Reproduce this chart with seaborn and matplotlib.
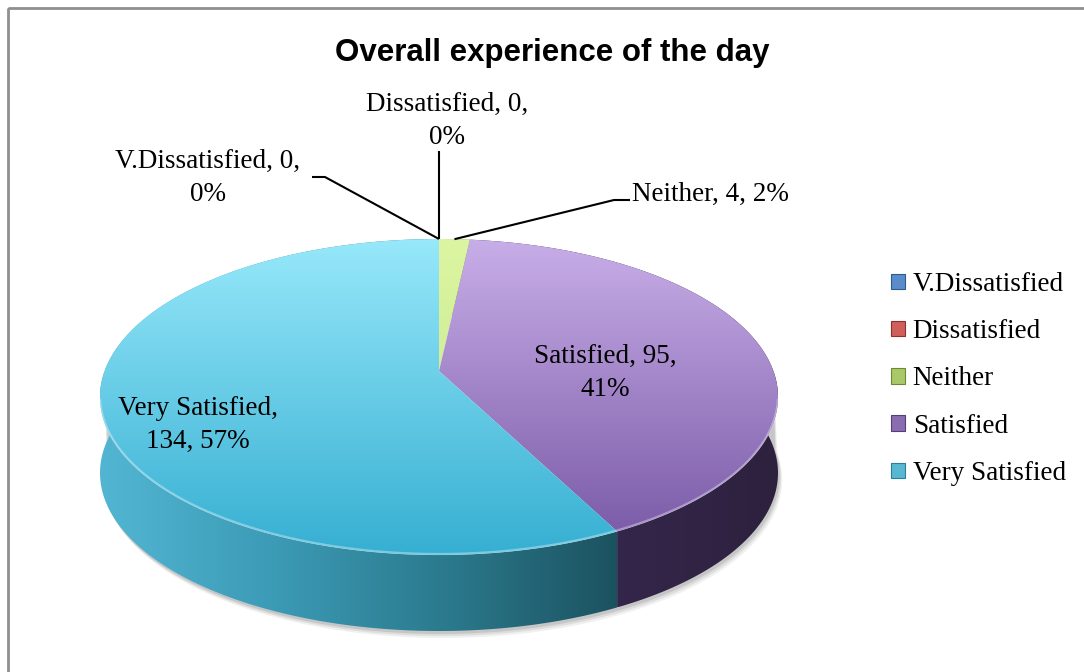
import numpy as np
import matplotlib
matplotlib.use("Agg")
import matplotlib.pyplot as plt
from matplotlib.patches import Polygon, Rectangle, Patch
import seaborn as sns

# ---- data -------------------------------------------------------------
categories = ["V.Dissatisfied", "Dissatisfied", "Neither", "Satisfied", "Very Satisfied"]
counts = [0, 0, 4, 95, 134]
percents = ["0%", "0%", "2%", "41%", "57%"]
# comma-separated label parts kept on the first line of each data label
first_line_parts = [2, 2, 3, 2, 1]
chart_title = "Overall experience of the day"

# ---- colours ------------------------------------------------------------
legend_colors = ["#5a8ccb", "#d05f5c", "#a9c868", "#8a6db0", "#58b8d2"]
legend_edges = ["#2f5a8e", "#8e3030", "#6b8a33", "#553e78", "#2b7f98"]
top_colors = [("#7ea9dc", "#4f81bd"), ("#e08080", "#c0504d"),
              ("#dcf5a2", "#c2e487"), ("#c8aee8", "#7656a4"),
              ("#97e8fa", "#36afd2")]
side_colors = [["#3d6699", "#2c4d75"], ["#9a3e3c", "#72302e"],
               ["#9ab95a", "#7a9544"], ["#3d2b50", "#34264a", "#2d213e"],
               ["#52b6d3", "#3c9bb6", "#2b7a8d", "#1c5260"]]

sns.set_theme(style="white")
plt.rcParams["font.family"] = ["Liberation Serif", "DejaVu Serif"]
plt.rcParams["text.color"] = "black"

W, H = 1084, 672
fig = plt.figure(figsize=(W / 100, H / 100), dpi=100)
ax = fig.add_axes([0, 0, 1, 1])
ax.set_xlim(0, W)
ax.set_ylim(H, 0)
ax.axis("off")

# ---- perspective model of the pie disc ----------------------------------
CX = 439.0
Y_FAR, Y_CENTER, Y_NEAR = 239.0, 371.0, 555.0
HALF_W = 339.0
DEPTH = 76.0
q = Y_CENTER
r = (2 * q - Y_NEAR - Y_FAR) / (Y_NEAR - Y_FAR)
p = Y_NEAR * (r + 1) - q
vv = np.linspace(-1, 1, 4001)
s = HALF_W / np.max(np.sqrt(1 - vv ** 2) / (1 + r * vv))


def project(u, v):
    d = 1 + r * v
    return CX + s * u / d, (p * v + q) / d


def rim(phi, rho=1.0):
    # phi measured clockwise from 12 o'clock
    return project(rho * np.sin(phi), -rho * np.cos(phi))


def gradient_patch(xy, colors, horizontal, zorder):
    poly = Polygon(xy, closed=True, facecolor="none", edgecolor="none", zorder=zorder)
    ax.add_patch(poly)
    x0, y0 = xy.min(axis=0)
    x1, y1 = xy.max(axis=0)
    cmap = sns.blend_palette(colors, as_cmap=True)
    ramp = np.linspace(0, 1, 256)
    arr = ramp[None, :] if horizontal else ramp[:, None]
    im = ax.imshow(arr, cmap=cmap, extent=(x0, x1, y1, y0), aspect="auto",
                   interpolation="bilinear", zorder=zorder)
    im.set_clip_path(poly)


total = float(sum(counts))
bounds = 2 * np.pi * np.concatenate([[0], np.cumsum(counts)]) / total

# soft shadow under the disc
front = np.linspace(np.pi / 2, 3 * np.pi / 2, 200)
fx, fy = rim(front)
for k, a in zip([7, 5, 3], [0.06, 0.08, 0.10]):
    shadow = np.column_stack([np.r_[fx + k * 0.6, fx[::-1]],
                              np.r_[fy + DEPTH + k, fy[::-1]]])
    ax.add_patch(Polygon(shadow, closed=True, facecolor="#000000",
                         edgecolor="none", alpha=a, zorder=1))

# side walls
for i, c in enumerate(counts):
    if c == 0:
        continue
    ph = np.linspace(bounds[i], bounds[i + 1], 200)
    x, y = rim(ph)
    xy = np.column_stack([np.r_[x, x[::-1]], np.r_[y, y[::-1] + DEPTH]])
    gradient_patch(xy, side_colors[i], horizontal=True, zorder=2)

# top faces
for i, c in enumerate(counts):
    if c == 0:
        continue
    ph = np.linspace(bounds[i], bounds[i + 1], 200)
    x, y = rim(ph)
    xy = np.column_stack([np.r_[CX, x], np.r_[Y_CENTER, y]])
    poly = Polygon(xy, closed=True, facecolor="none", edgecolor="none", zorder=3)
    ax.add_patch(poly)
    cmap = sns.blend_palette(list(top_colors[i]), as_cmap=True)
    im = ax.imshow(np.linspace(0, 1, 256)[:, None], cmap=cmap,
                   extent=(CX - HALF_W, CX + HALF_W, Y_NEAR, Y_FAR),
                   aspect="auto", interpolation="bilinear", zorder=3)
    im.set_clip_path(poly)

# light bevel along the front rim
hx, hy = rim(np.linspace(np.pi * 0.56, np.pi * 1.44, 200))
ax.plot(hx, hy - 1, color="white", alpha=0.35, lw=1.6, zorder=4)

# ---- data labels -----------------------------------------------------------
def label_text(i):
    parts = [categories[i], str(counts[i]), percents[i]]
    k = first_line_parts[i]
    head = ", ".join(parts[:k])
    tail = ", ".join(parts[k:])
    return head + ",\n" + tail if tail else head


label_pos = [(208, 178, "center"), (447, 121, "center"), (632, 194, "left"),
             (605, 373, "center"), (198, 425, "center")]
for i in range(len(categories)):
    x, y, ha = label_pos[i]
    ax.text(x, y, label_text(i), ha=ha, va="center", multialignment="center",
            fontsize=19.5, color="black", linespacing=1.42, zorder=6)

# leader lines for the outside labels
mids = (bounds[:-1] + bounds[1:]) / 2
leaders = {0: [(312, 177), (325, 177)], 1: [(439, 151)], 2: [(630, 200), (614, 200)]}
for i, pts in leaders.items():
    ex, ey = rim(mids[i])
    xs = [pt[0] for pt in pts] + [ex]
    ys = [pt[1] for pt in pts] + [ey]
    ax.plot(xs, ys, color="black", lw=1.5, zorder=6, solid_capstyle="butt")

# ---- title ---------------------------------------------------------------------
ax.text(552, 53, chart_title, ha="center", va="center", fontsize=22.5,
        fontweight="bold", color="black",
        family=["Liberation Sans", "DejaVu Sans"], zorder=6)

# ---- legend --------------------------------------------------------------------
handles = [Patch(facecolor=legend_colors[i], edgecolor=legend_edges[i], lw=0.8)
           for i in range(len(categories))]
ax.legend(handles, categories, loc="upper left",
          bbox_to_anchor=(891 / W, 1 - 272 / H), bbox_transform=fig.transFigure,
          frameon=False, prop={"family": "Liberation Serif", "size": 19.5},
          labelcolor="black",
          handlelength=0.5, handleheight=0.5, handletextpad=0.3,
          labelspacing=0.82, borderaxespad=0, borderpad=0)

# ---- chart area border ---------------------------------------------------------
ax.add_patch(Rectangle((8, 8), W + 20, H + 20, facecolor="none",
                       edgecolor="#8f8f8f", lw=2.0, zorder=7))

ax.set_xlim(0, W)
ax.set_ylim(H, 0)
fig.savefig("out.png", dpi=100)
